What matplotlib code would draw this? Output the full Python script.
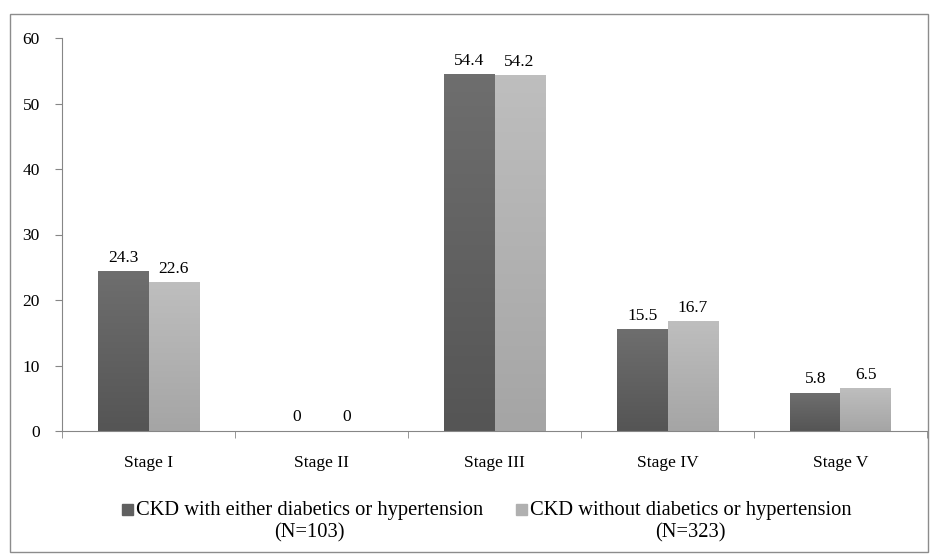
import numpy as np
import matplotlib.pyplot as plt
from matplotlib.patches import Rectangle
from matplotlib.colors import LinearSegmentedColormap

stages = ["Stage I", "Stage II", "Stage III", "Stage IV", "Stage V"]
with_dm_htn = [24.3, 0, 54.4, 15.5, 5.8]
without_dm_htn = [22.6, 0, 54.2, 16.7, 6.5]
labels = ["CKD with either diabetics or hypertension\n(N=103)",
          "CKD without diabetics or hypertension\n(N=323)"]
colors = ["#606060", "#b0b0b0"]

plt.rcParams['font.family'] = ['Liberation Serif', 'DejaVu Serif']
plt.rcParams['font.size'] = 12.5

W, H = 930, 554
fig = plt.figure(figsize=(9.3, 5.54), dpi=100)
ax = fig.add_axes([62 / W, 123 / H, 865 / W, 393 / H])

# outer frame around the whole chart
fig.patches.append(Rectangle((10 / W, 2 / H), 918 / W, 538 / H,
                             transform=fig.transFigure, fill=False,
                             edgecolor="#8c8c8c", linewidth=1))

x = np.arange(len(stages))
w = 0.29
b1 = ax.bar(x - w / 2, with_dm_htn, w, color=colors[0])
b2 = ax.bar(x + w / 2, without_dm_htn, w, color=colors[1])

# vertical gradient fill like the original
grads = [("#555555", "#6e6e6e"), ("#a5a5a5", "#bebebe")]
for bars, (c0, c1) in zip([b1, b2], grads):
    cmap = LinearSegmentedColormap.from_list("g", [c0, c1])
    for p in bars:
        h = p.get_height()
        p.set_visible(False)
        if h <= 0:
            continue
        x0 = p.get_x()
        ax.imshow(np.linspace(0, 1, 100).reshape(-1, 1), cmap=cmap,
                  extent=[x0, x0 + p.get_width(), 0, h], origin="lower",
                  aspect="auto", zorder=2)

for bars, vals in zip([b1, b2], [with_dm_htn, without_dm_htn]):
    for p, v in zip(bars, vals):
        ax.annotate(f"{v:g}", (p.get_x() + p.get_width() / 2, v),
                    xytext=(0, 4), textcoords="offset points",
                    ha="center", va="bottom")

ax.set_xlim(-0.5, len(stages) - 0.5)
ax.set_ylim(0, 60)
ax.set_yticks(range(0, 61, 10))
ax.set_xticks(x)
ax.set_xticklabels(stages)
ax.set_xticks(np.arange(-0.5, len(stages), 1), minor=True)
ax.tick_params(axis="x", which="major", length=0, pad=17)
ax.tick_params(axis="x", which="minor", length=5, color="#868686")
ax.tick_params(axis="y", length=5, color="#868686", pad=11)
for s in ["top", "right"]:
    ax.spines[s].set_visible(False)
for s in ["left", "bottom"]:
    ax.spines[s].set_color("#868686")

# legend: square marker level with the first line, text centred in two lines
legend_x = [122, 516]
for lx, lab, c in zip(legend_x, labels, colors):
    fig.patches.append(Rectangle((lx / W, (H - 515) / H), 11 / W, 11 / H,
                                 transform=fig.transFigure, color=c))
    fig.text((lx + 14) / W, (H - 522) / H, lab, ha="left", va="center",
             multialignment="center", fontsize=14.8, linespacing=1.2)

fig.savefig("out.png", dpi=100)
